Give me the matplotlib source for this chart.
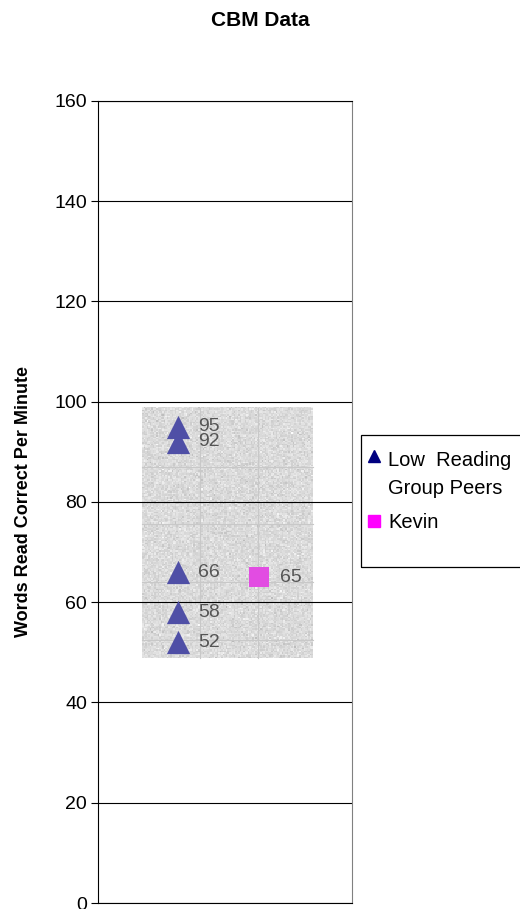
import numpy as np
import matplotlib
matplotlib.use("Agg")
import matplotlib.pyplot as plt
from matplotlib.patches import Rectangle
from matplotlib.lines import Line2D

plt.rcParams['font.family'] = ['Liberation Sans', 'DejaVu Sans']

# CBM scores (words read correct per minute)
peer_scores = [95, 92, 66, 58, 52]
kevin_scores = [65]
series_names = ["Low  Reading\nGroup Peers", "Kevin"]
y_ticks = [0, 20, 40, 60, 80, 100, 120, 140, 160]

fig = plt.figure(figsize=(5.2, 9.09), dpi=100)
ax = fig.add_axes([0.1885, 0.0066, 0.4885, 0.8823])
ax.set_xlim(0, 1)
ax.set_ylim(0, 160)
ax.set_yticks(y_ticks)
ax.set_xticks([])
ax.tick_params(axis='y', labelsize=14, length=5, width=0.8, pad=3)
ax.grid(axis='y', color='black', linewidth=0.8)
for side in ['left', 'bottom', 'top']:
    ax.spines[side].set_color('black')
ax.spines['right'].set_color('#808080')

# grainy grey backdrop behind the points
rng = np.random.default_rng(3)
grain = 0.855 + 0.035 * rng.standard_normal((170, 110))
ax.imshow(grain, cmap='gray', vmin=0, vmax=1, extent=(0.173, 0.845, 48.9, 98.8),
          aspect='auto', zorder=0.2, interpolation='nearest')
for xv in [0.402, 0.63]:
    ax.plot([xv, xv], [48.9, 98.8], color='#c8c8c8', lw=0.8, zorder=0.3)
for yv in [87, 75.6, 64, 52.5]:
    ax.plot([0.173, 0.845], [yv, yv], color='#c8c8c8', lw=0.8, zorder=0.3)

peer_x = 0.315
kevin_x = 0.634
ax.scatter([peer_x] * len(peer_scores), peer_scores, marker='^', s=280,
           color='#4f4fa6', zorder=3, linewidths=0)
ax.scatter([kevin_x] * len(kevin_scores), kevin_scores, marker='s', s=190,
           color='#e24ce2', zorder=3, linewidths=0)
for v in peer_scores:
    ax.text(peer_x + 0.078, v, str(v), fontsize=14, color='#555555',
            va='center', ha='left', zorder=4)
for v in kevin_scores:
    ax.text(kevin_x + 0.083, v, str(v), fontsize=14, color='#555555',
            va='center', ha='left', zorder=4)

ax.set_ylabel('Words Read Correct Per Minute', fontsize=13, fontweight='bold', labelpad=16)
fig.text(0.5, 1 - 21 / 909, 'CBM Data', fontsize=15, fontweight='bold',
         ha='center', va='center')

# legend box running off the right edge
fig.patches.append(Rectangle((361 / 520, 1 - 567 / 909), 0.4, 132 / 909,
                             transform=fig.transFigure, fill=False,
                             edgecolor='black', linewidth=0.9, clip_on=False))
fig.lines.append(Line2D([374 / 520], [1 - 456 / 909], marker='^', markersize=9,
                        color='#000080', linestyle='none', transform=fig.transFigure))
fig.lines.append(Line2D([374 / 520], [1 - 521 / 909], marker='s', markersize=8,
                        color='#ff00ff', linestyle='none', transform=fig.transFigure))
fig.text(388 / 520, 1 - 474 / 909, series_names[0], fontsize=14.5, ha='left',
         va='center', linespacing=1.6)
fig.text(388 / 520, 1 - 522 / 909, series_names[1], fontsize=14.5, ha='left', va='center')

fig.savefig('out.png', dpi=100)
